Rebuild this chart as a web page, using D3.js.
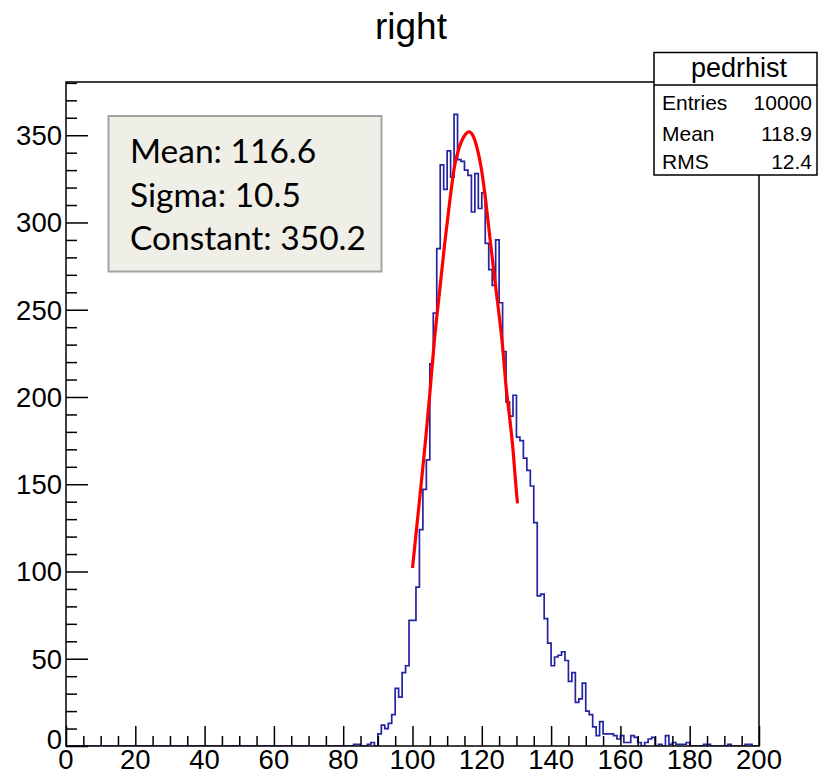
<!DOCTYPE html>
<html>
<head>
<meta charset="utf-8">
<script src="https://cdn.jsdelivr.net/npm/d3@7"></script>
<style>
body { margin: 0; background: #fff; }
svg { display: block; }
</style>
</head>
<body>
<div id="chart"></div>
<script>
var title = "right",
		histName = "pedrhist";

// counts per bin, bins of width 1 from 0 to 200
var binCounts = [
	0,0,0,0,0,0,0,0,0,0,
	0,0,0,0,0,0,0,0,0,0,
	0,0,0,0,0,0,0,0,0,0,
	0,0,0,0,0,0,0,0,0,0,
	0,0,0,0,0,0,0,0,0,0,
	0,0,0,0,0,0,0,0,0,0,
	0,0,0,0,0,0,0,0,0,0,
	0,0,0,0,0,0,0,0,0,0,
	0,0,0,1,1,0,0,1,2,0,
	7,12,10,13,18,33,28,42,46,72,
	72,91,124,147,164,219,248,285,333,319,
	341,326,362,336,335,330,327,306,328,308,
	317,288,273,264,290,254,226,197,189,201,
	177,175,165,158,149,128,86,87,73,59,
	46,51,52,54,49,37,42,25,27,36,
	20,18,11,6,14,7,7,7,6,4,
	6,2,2,6,5,2,0,2,4,5,
	0,1,0,6,1,2,1,1,1,2,
	0,0,0,0,1,1,0,0,0,0,
	0,1,0,0,0,0,1,1,0,0
];

// gaussian fit as drawn
var fitX = [100, 101.3, 102.6, 103.8, 105, 106.3, 107.9, 109.3, 110.8, 112.2, 113.5, 115.1, 116.3, 117.5, 118.6, 119.9, 121.1, 122.3, 123.4, 124.2, 126, 127.1, 128.1, 129, 129.8, 130.3];
var fitY = [102, 127, 152, 176, 202, 232, 262, 288, 313, 333, 343, 350, 352, 349.6, 343, 330.5, 313, 292, 273, 260, 229, 204, 187, 170, 150, 139];

var xTicks = [0, 20, 40, 60, 80, 100, 120, 140, 160, 180, 200],
		yTicks = [0, 50, 100, 150, 200, 250, 300, 350];

var statsLabels = ["Entries", "Mean", "RMS"],
		statsValues = ["10000", "118.9", "12.4"];

var fitLines = ["Mean: 116.6", "Sigma: 10.5", "Constant: 350.2"];

var width = 821,
		height = 777,
		frame = {left: 66, right: 759, top: 82, bottom: 746};

var svg = d3.select("#chart").append("svg")
		.attr("width", width)
		.attr("height", height)
		.style("font-family", "'Liberation Sans', Arial, sans-serif");

svg.append("rect")
		.attr("width", width)
		.attr("height", height)
		.attr("fill", "#fff");

var x = d3.scaleLinear().domain([0, 200]).range([frame.left, frame.right]),
		y = d3.scaleLinear().domain([0, 380.5]).range([frame.bottom, frame.top]);

svg.append("defs").append("clipPath")
		.attr("id", "clip")
	.append("rect")
		.attr("x", frame.left)
		.attr("y", frame.top)
		.attr("width", frame.right - frame.left)
		.attr("height", frame.bottom - frame.top);

// histogram outline
var steps = binCounts.map(function(v, i) { return [i, v]; });
steps.push([200, binCounts[199]]);

var histLine = d3.line()
		.curve(d3.curveStepAfter)
		.x(function(d) { return x(d[0]); })
		.y(function(d) { return y(d[1]); });

svg.append("path")
		.datum(steps)
		.attr("clip-path", "url(#clip)")
		.attr("fill", "none")
		.attr("stroke", "#2323a3")
		.attr("stroke-width", 1.7)
		.attr("d", histLine);

// fit
var fitLine = d3.line()
		.curve(d3.curveMonotoneX)
		.x(function(d) { return x(d[0]); })
		.y(function(d) { return y(d[1]); });

svg.append("path")
		.datum(fitX.map(function(v, i) { return [v, fitY[i]]; }))
		.attr("fill", "none")
		.attr("stroke", "#ff0000")
		.attr("stroke-width", 3.2)
		.attr("d", fitLine);

// frame
svg.append("rect")
		.attr("x", frame.left)
		.attr("y", frame.top)
		.attr("width", frame.right - frame.left)
		.attr("height", frame.bottom - frame.top)
		.attr("fill", "none")
		.attr("stroke", "#000")
		.attr("stroke-width", 1.5);

// x axis, ticks pointing up
var xAxis = d3.axisTop(x)
		.tickValues(xTicks)
		.tickSize(20)
		.tickFormat("");
var xMinor = d3.axisTop(x)
		.tickValues(d3.range(0, 201, 5).filter(function(d) { return d % 20; }))
		.tickSize(10)
		.tickFormat("");

svg.append("g")
		.attr("transform", "translate(0," + frame.bottom + ")")
		.call(xAxis);
svg.append("g")
		.attr("transform", "translate(0," + frame.bottom + ")")
		.call(xMinor);

// y axis, ticks pointing right
var yAxis = d3.axisRight(y)
		.tickValues(yTicks)
		.tickSize(22)
		.tickFormat("");
var yMinor = d3.axisRight(y)
		.tickValues(d3.range(0, 381, 10).filter(function(d) { return d % 50; }))
		.tickSize(11)
		.tickFormat("");

svg.append("g")
		.attr("transform", "translate(" + frame.left + ",0)")
		.call(yAxis);
svg.append("g")
		.attr("transform", "translate(" + frame.left + ",0)")
		.call(yMinor);

svg.selectAll(".domain").remove();
svg.selectAll(".tick line")
		.attr("stroke", "#000")
		.attr("stroke-width", 1.5);

// tick labels
svg.append("g").selectAll("text")
		.data(xTicks)
	.enter().append("text")
		.attr("x", function(d) { return x(d); })
		.attr("y", 769)
		.attr("text-anchor", "middle")
		.attr("font-size", 27.5)
		.attr("fill", "#000")
		.text(function(d) { return d; });

svg.append("g").selectAll("text")
		.data(yTicks)
	.enter().append("text")
		.attr("x", 62)
		.attr("y", function(d) { return d === 0 ? y(d) - 7 : y(d); })
		.attr("dy", "0.36em")
		.attr("text-anchor", "end")
		.attr("font-size", 27.5)
		.attr("fill", "#000")
		.text(function(d) { return d; });

// title
svg.append("text")
		.attr("x", 411)
		.attr("y", 39)
		.attr("text-anchor", "middle")
		.attr("font-size", 37)
		.attr("fill", "#000")
		.text(title);

// stats box
var stats = svg.append("g");
stats.append("rect")
		.attr("x", 654)
		.attr("y", 52.5)
		.attr("width", 163)
		.attr("height", 122.5)
		.attr("fill", "#fff")
		.attr("stroke", "#000")
		.attr("stroke-width", 1.5);
stats.append("line")
		.attr("x1", 654)
		.attr("x2", 817)
		.attr("y1", 85)
		.attr("y2", 85)
		.attr("stroke", "#000")
		.attr("stroke-width", 1.5);
stats.append("text")
		.attr("x", 739)
		.attr("y", 77)
		.attr("text-anchor", "middle")
		.attr("font-size", 27)
		.text(histName);

var rowY = [110, 141, 169];
stats.selectAll(".stat-label")
		.data(statsLabels)
	.enter().append("text")
		.attr("class", "stat-label")
		.attr("x", 662)
		.attr("y", function(d, i) { return rowY[i]; })
		.attr("font-size", 21)
		.text(function(d) { return d; });
stats.selectAll(".stat-value")
		.data(statsValues)
	.enter().append("text")
		.attr("class", "stat-value")
		.attr("x", 812)
		.attr("y", function(d, i) { return rowY[i]; })
		.attr("text-anchor", "end")
		.attr("font-size", 21)
		.text(function(d) { return d; });

// fit result box
var fitBox = svg.append("g");
fitBox.append("rect")
		.attr("x", 108.5)
		.attr("y", 116)
		.attr("width", 273)
		.attr("height", 155.5)
		.attr("fill", "#efefe7")
		.attr("stroke", "#a3a3a3")
		.attr("stroke-width", 2);
fitBox.selectAll("text")
		.data(fitLines)
	.enter().append("text")
		.attr("x", 130)
		.attr("y", function(d, i) { return 163 + i * 43.5; })
		.attr("font-family", "Lato, 'Open Sans', sans-serif")
		.attr("font-size", 33.5)
		.attr("fill", "#000")
		.text(function(d) { return d; });
</script>
</body>
</html>
